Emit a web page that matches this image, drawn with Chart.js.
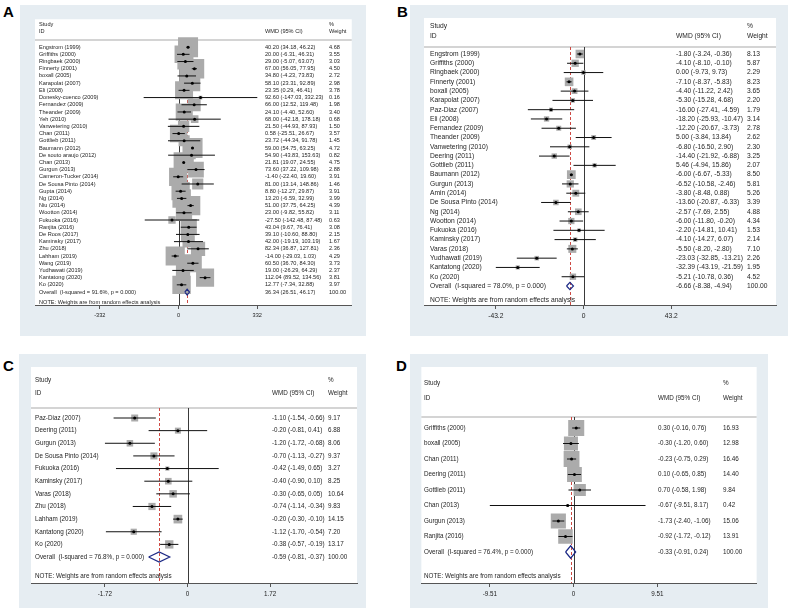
<!DOCTYPE html>
<html><head><meta charset="utf-8">
<script src="https://cdn.jsdelivr.net/npm/chart.js@4/dist/chart.umd.min.js"></script>
<style>
html,body{margin:0;padding:0;background:#fff;width:790px;height:611px;overflow:hidden}
canvas{position:absolute}
.lbl{position:absolute;font:bold 15px "Liberation Sans",Arial,sans-serif;line-height:15px;color:#000}
</style></head><body>
<div class="lbl" style="left:3px;top:4px">A</div>
<div class="lbl" style="left:397px;top:4px">B</div>
<div class="lbl" style="left:3px;top:358px">C</div>
<div class="lbl" style="left:396px;top:358px">D</div>
<canvas id="cA"></canvas><canvas id="cB"></canvas><canvas id="cC"></canvas><canvas id="cD"></canvas>
<script>
// ---------- Panel A ----------
const studiesA = ["Engstrom (1999)","Griffiths (2000)","Ringbaek (2000)","Finnerty (2001)","boxall (2005)","Karapolat (2007)","Eli (2008)","Donesky-cuenco (2009)","Fernandez (2009)","Theander (2009)","Yeh (2010)","Vanwetering (2010)","Chan (2011)","Gottlieb (2011)","Baumann (2012)","De souto araujo (2012)","Chan (2013)","Gurgun (2013)","Cameron-Tucker (2014)","De Sousa Pinto (2014)","Gupta (2014)","Ng (2014)","Niu (2014)","Wootton (2014)","Fukuoka (2016)","Ranjita (2016)","De Roos (2017)","Kaminsky (2017)","Zhu (2018)","Lahham (2019)","Wang (2019)","Yudhawati (2019)","Kantatong (2020)","Ko (2020)"];
const wmdA = [40.20,20.00,29.00,67.00,34.80,58.10,23.35,92.60,66.00,24.10,68.00,21.50,0.58,23.72,59.00,54.90,21.81,73.60,-1.40,81.00,8.80,13.20,51.00,23.00,-27.50,43.04,39.10,42.00,82.34,-14.00,60.50,19.00,112.04,12.77];
const lowA = [34.18,-6.31,-5.07,56.05,-4.23,23.31,0.29,-147.03,12.52,-4.40,-42.18,-44.93,-25.51,-44.34,54.75,-43.83,19.07,37.22,-22.40,13.14,-12.27,-6.59,37.75,-9.82,-142.48,9.67,-10.60,-19.19,36.87,-29.03,36.70,-26.29,89.52,-7.34];
const highA = [46.22,46.31,63.07,77.95,73.83,92.89,46.41,332.23,119.48,52.60,178.18,87.93,26.67,91.78,63.25,153.63,24.55,109.98,19.60,148.86,29.87,32.99,64.25,55.82,87.48,76.41,88.80,103.19,127.81,1.03,84.30,64.29,134.56,32.88];
const weightA = [4.68,3.55,3.03,4.50,2.72,2.98,3.78,0.16,1.98,3.40,0.68,1.50,3.57,1.45,4.72,0.82,4.75,2.88,3.91,1.46,3.91,3.99,4.39,3.11,0.63,3.08,2.15,1.67,2.36,4.29,3.73,2.37,3.81,3.97];
const overallA = [36.34, 26.51, 46.17];
const i2A = "91.6%";
const ticksA = [-332, 0, 332];
const tickLabelsA = ["-332", "0", "332"];

// ---------- Panel B ----------
const studiesB = ["Engstrom (1999)","Griffiths (2000)","Ringbaek (2000)","Finnerty (2001)","boxall (2005)","Karapolat (2007)","Paz-Diaz (2007)","Eli (2008)","Fernandez (2009)","Theander (2009)","Vanwetering (2010)","Deering (2011)","Gottlieb (2011)","Baumann (2012)","Gurgun (2013)","Amin (2014)","De Sousa Pinto (2014)","Ng (2014)","Wootton (2014)","Fukuoka (2016)","Kaminsky (2017)","Varas (2018)","Yudhawati (2019)","Kantatong (2020)","Ko (2020)"];
const wmdB = [-1.80,-4.10,0.00,-7.10,-4.40,-5.30,-16.00,-18.20,-12.20,5.00,-6.80,-14.40,5.46,-6.00,-6.52,-3.80,-13.60,-2.57,-6.00,-2.20,-4.10,-5.50,-23.03,-32.39,-5.21];
const lowB = [-3.24,-8.10,-9.73,-8.37,-11.22,-15.28,-27.41,-25.93,-20.67,-3.84,-16.50,-21.92,-4.94,-6.67,-10.58,-8.48,-20.87,-7.69,-11.80,-14.81,-14.27,-8.20,-32.85,-43.19,-10.78];
const highB = [-0.36,-0.10,9.73,-5.83,2.42,4.68,-4.59,-10.47,-3.73,13.84,2.90,-6.88,15.86,-5.33,-2.46,0.88,-6.33,2.55,-0.20,10.41,6.07,-2.80,-13.21,-21.59,0.36];
const weightB = [8.13,5.87,2.29,8.23,3.65,2.20,1.79,3.14,2.78,2.62,2.30,3.25,2.07,8.50,5.81,5.26,3.39,4.88,4.34,1.53,2.14,7.10,2.26,1.95,4.52];
const overallB = [-6.66, -8.38, -4.94];
const i2B = "78.0%";
const ticksB = [-43.2, 0, 43.2];
const tickLabelsB = ["-43.2", "0", "43.2"];

// ---------- Panel C ----------
const studiesC = ["Paz-Diaz (2007)","Deering (2011)","Gurgun (2013)","De Sousa Pinto (2014)","Fukuoka (2016)","Kaminsky (2017)","Varas (2018)","Zhu (2018)","Lahham (2019)","Kantatong (2020)","Ko (2020)"];
const wmdC = [-1.10,-0.20,-1.20,-0.70,-0.42,-0.40,-0.30,-0.74,-0.20,-1.12,-0.38];
const lowC = [-1.54,-0.81,-1.72,-1.13,-1.49,-0.90,-0.65,-1.14,-0.30,-1.70,-0.57];
const highC = [-0.66,0.41,-0.68,-0.27,0.65,0.10,0.05,-0.34,-0.10,-0.54,-0.19];
const weightC = [9.17,6.88,8.06,9.37,3.27,8.25,10.64,9.83,14.15,7.20,13.17];
const overallC = [-0.59, -0.81, -0.37];
const i2C = "76.8%";
const ticksC = [-1.72, 0, 1.72];
const tickLabelsC = ["-1.72", "0", "1.72"];

// ---------- Panel D ----------
const studiesD = ["Griffiths (2000)","boxall (2005)","Chan (2011)","Deering (2011)","Gottlieb (2011)","Chan (2013)","Gurgun (2013)","Ranjita (2016)"];
const wmdD = [0.30,-0.30,-0.23,0.10,0.70,-0.67,-1.73,-0.92];
const lowD = [-0.16,-1.20,-0.75,-0.65,-0.58,-9.51,-2.40,-1.72];
const highD = [0.76,0.60,0.29,0.85,1.98,8.17,-1.06,-0.12];
const weightD = [16.93,12.98,16.46,14.40,9.84,0.42,15.06,13.91];
const overallD = [-0.33, -0.91, 0.24];
const i2D = "76.4%";
const ticksD = [-9.51, 0, 9.51];
const tickLabelsD = ["-9.51", "0", "9.51"];

// ---------- layout (pixels) ----------
const FAM = '"Liberation Sans", Arial, sans-serif';
const BG = '#e6edf2';
const AXH = 20;
const panels = [
 {id:'cA', studies:studiesA, est:wmdA, lo:lowA, hi:highA, w:weightA, ov:overallA, i2:i2A, ticks:ticksA, tl:tickLabelsA,
  bg:[20,5,366,336], white:[35,18,355,305], zero:180, ppu:0.2395, firstY:46, step:7.235,
  font:5.6, box:9.25, cS:39, cW:265, cP:329, h1:24, h2:31, sep:40, note:302},
 {id:'cB', studies:studiesB, est:wmdB, lo:lowB, hi:highB, w:weightB, ov:overallB, i2:i2B, ticks:ticksB, tl:tickLabelsB,
  bg:[410,5,788,336], white:[424,18,776,305], zero:583.5, ppu:2.03, firstY:54, step:9.28,
  font:6.7, box:3.0, cS:430, cW:676, cP:747, h1:26, h2:36, sep:47, note:300},
 {id:'cC', studies:studiesC, est:wmdC, lo:lowC, hi:highC, w:weightC, ov:overallC, i2:i2C, ticks:ticksC, tl:tickLabelsC,
  bg:[19,354,366,608], white:[31,367,357,583], zero:187.5, ppu:48, firstY:418, step:12.64,
  font:6.3, box:2.3, cS:35, cW:272, cP:328, h1:380, h2:393, sep:408, note:576},
 {id:'cD', studies:studiesD, est:wmdD, lo:lowD, hi:highD, w:weightD, ov:overallD, i2:i2D, ticks:ticksD, tl:tickLabelsD,
  bg:[410,354,768,608], white:[421,367,758,583], zero:574, ppu:8.85, firstY:428, step:15.5,
  font:6.3, box:3.9, cS:424, cW:658, cP:723, h1:383, h2:398, sep:417, note:576}
];

const fmt = (e,l,h) => e.toFixed(2) + ' (' + l.toFixed(2) + ', ' + h.toFixed(2) + ')';

function forestPlugin(p){
  const ox = p.bg[0], oy = p.bg[1];
  return {
    id:'forest'+p.id,
    beforeDraw(chart){
      const {ctx, chartArea:a, width, height} = chart;
      ctx.save();
      ctx.fillStyle = BG; ctx.fillRect(0,0,width,height);
      ctx.fillStyle = '#ffffff'; ctx.fillRect(a.left, a.top, a.right-a.left, a.bottom-a.top);
      ctx.restore();
    },
    beforeDatasetsDraw(chart){
      const {ctx, chartArea:a, scales:{x}} = chart;
      const sy = p.sep - oy;
      ctx.save();
      ctx.strokeStyle = '#c6c6c6'; ctx.lineWidth = 1.5;
      ctx.beginPath(); ctx.moveTo(a.left, sy); ctx.lineTo(a.right, sy); ctx.stroke();
      const x0 = Math.round(x.getPixelForValue(0)) + 0.5;
      ctx.strokeStyle = '#3a3a3a'; ctx.lineWidth = 1;
      ctx.beginPath(); ctx.moveTo(x0, sy); ctx.lineTo(x0, a.bottom); ctx.stroke();
      const xe = Math.round(x.getPixelForValue(p.ov[0])) + 0.5;
      ctx.strokeStyle = '#c8352f'; ctx.lineWidth = 0.9; ctx.setLineDash([3,2]);
      ctx.beginPath(); ctx.moveTo(xe, sy); ctx.lineTo(xe, a.bottom); ctx.stroke();
      ctx.restore();
    },
    afterDatasetsDraw(chart){
      const {ctx, scales:{y}} = chart;
      ctx.save();
      ctx.font = p.font + 'px ' + FAM;
      ctx.fillStyle = '#1e1e1e';
      ctx.textBaseline = 'middle'; ctx.textAlign = 'left';
      ctx.fillText('Study', p.cS-ox, p.h1-oy);
      ctx.fillText('ID', p.cS-ox, p.h2-oy);
      ctx.fillText('WMD (95% CI)', p.cW-ox, p.h2-oy);
      ctx.fillText('%', p.cP-ox, p.h1-oy);
      ctx.fillText('Weight', p.cP-ox, p.h2-oy);
      p.studies.forEach((s,i) => {
        const py = y.getPixelForValue(i);
        ctx.fillText(s, p.cS-ox, py);
        ctx.fillText(fmt(p.est[i], p.lo[i], p.hi[i]), p.cW-ox, py);
        ctx.fillText(p.w[i].toFixed(2), p.cP-ox, py);
      });
      const n = p.studies.length, py = y.getPixelForValue(n);
      ctx.fillText('Overall  (I-squared = ' + p.i2 + ', p = 0.000)', p.cS-ox, py);
      ctx.fillText(fmt(p.ov[0], p.ov[1], p.ov[2]), p.cW-ox, py);
      ctx.fillText('100.00', p.cP-ox, py);
      ctx.fillText('NOTE: Weights are from random effects analysis', p.cS-ox, p.note-oy);
      ctx.restore();
    }
  };
}

panels.forEach(p => {
  const cv = document.getElementById(p.id);
  const W = p.bg[2]-p.bg[0], H = p.bg[3]-p.bg[1];
  cv.width = W; cv.height = H;
  cv.style.left = p.bg[0]+'px'; cv.style.top = p.bg[1]+'px';
  cv.style.width = W+'px'; cv.style.height = H+'px';
  const n = p.studies.length;
  const xmin = (p.white[0]-p.zero)/p.ppu, xmax = (p.white[2]-p.zero)/p.ppu;
  const ymin = (p.white[1]-p.firstY)/p.step, ymax = (p.white[3]-p.firstY)/p.step;
  const datasets = [];
  // weight boxes
  datasets.push({type:'scatter', data:p.est.map((e,i)=>({x:e,y:i})), pointStyle:'rect',
    pointRadius:p.w.map(v=>p.box*Math.sqrt(v)/(2*Math.SQRT1_2)), backgroundColor:'#ababab', borderWidth:0, order:5});
  // confidence intervals
  p.est.forEach((e,i)=>{
    datasets.push({type:'line', data:[{x:p.lo[i],y:i},{x:p.hi[i],y:i}], borderColor:'#111', borderWidth:1,
      pointRadius:0, fill:false, order:3});
  });
  // point estimates
  datasets.push({type:'scatter', data:p.est.map((e,i)=>({x:e,y:i})), pointStyle:'circle', pointRadius:1.5,
    backgroundColor:'#000', borderWidth:0, order:2});
  // overall diamond
  const o = p.ov, h = 0.4;
  datasets.push({type:'line', data:[{x:o[1],y:n},{x:o[0],y:n-h},{x:o[2],y:n},{x:o[0],y:n+h},{x:o[1],y:n}],
    borderColor:'#1d2a86', borderWidth:1.2, pointRadius:0, fill:false, tension:0, order:1});
  new Chart(cv, {
    type:'scatter',
    data:{datasets},
    options:{
      responsive:false, animation:false, events:[], devicePixelRatio:1,
      layout:{padding:{left:p.white[0]-p.bg[0], right:p.bg[2]-p.white[2], top:p.white[1]-p.bg[1], bottom:p.bg[3]-p.white[3]-AXH}},
      plugins:{legend:{display:false}, tooltip:{enabled:false}},
      scales:{
        x:{type:'linear', min:xmin, max:xmax,
          afterBuildTicks:s=>{ s.ticks = p.ticks.map(v=>({value:v})); },
          afterFit:s=>{ s.height = AXH; },
          ticks:{callback:(v,i)=>p.tl[i], font:{size:p.font, family:FAM}, color:'#222', padding:3, maxRotation:0, autoSkip:false},
          grid:{drawOnChartArea:false, drawTicks:true, tickLength:4, color:'#555'},
          border:{display:true, color:'#555', width:1}},
        y:{type:'linear', display:false, reverse:true, min:ymin, max:ymax}
      }
    },
    plugins:[forestPlugin(p)]
  });
});
</script>
</body></html>
